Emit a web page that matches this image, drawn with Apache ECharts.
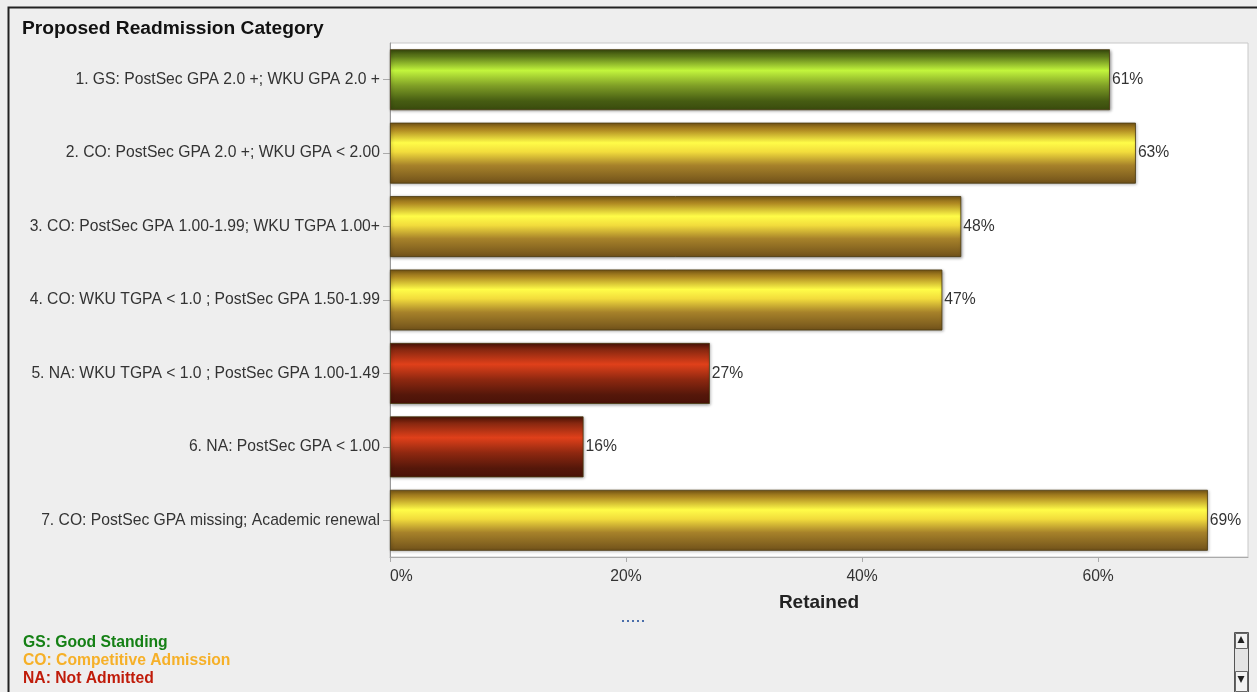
<!DOCTYPE html>
<html><head><meta charset="utf-8">
<script src="https://cdn.jsdelivr.net/npm/echarts@6/dist/echarts.min.js"></script>
<style>html,body{margin:0;padding:0;background:#eeeeee;}#c{width:1257px;height:692px;}</style>
</head><body><div id="c"></div>
<script>
const categories = [
  "1. GS: PostSec GPA 2.0 +; WKU GPA 2.0 +",
  "2. CO: PostSec GPA 2.0 +; WKU GPA < 2.00",
  "3. CO: PostSec GPA 1.00-1.99; WKU TGPA 1.00+",
  "4. CO: WKU TGPA < 1.0 ; PostSec GPA 1.50-1.99",
  "5. NA: WKU TGPA < 1.0 ; PostSec GPA 1.00-1.49",
  "6. NA: PostSec GPA < 1.00",
  "7. CO: PostSec GPA missing; Academic renewal"
];
const retained = [61.0, 63.2, 48.4, 46.8, 27.1, 16.4, 69.3];
const groups = ["GS", "CO", "CO", "CO", "NA", "NA", "CO"];
const xTicks = [0, 20, 40, 60];
const legendLines = ["GS: Good Standing", "CO: Competitive Admission", "NA: Not Admitted"];

const grads = {
  GS: [[0,'#384a0c'],[0.12,'#5d7a1a'],[0.35,'#c2f53c'],[0.6,'#7f9e26'],[0.85,'#465c12'],[1,'#3a4b0d']],
  CO: [[0,'#7a5816'],[0.12,'#b08a22'],[0.33,'#fffc48'],[0.48,'#f2dc3c'],[0.7,'#a7822a'],[1,'#70511a']],
  NA: [[0,'#4a1206'],[0.12,'#8a2810'],[0.35,'#e0401a'],[0.6,'#8e2810'],[0.85,'#55170a'],[1,'#4a1208']]
};
function grad(g){
  return new echarts.graphic.LinearGradient(0,0,0,1, grads[g].map(s=>({offset:s[0],color:s[1]})));
}
const legendColors = ['#158015','#f6b028','#c01c0a'];

const chart = echarts.init(document.getElementById('c'), null, {renderer:'canvas'});
const font = 'Arial, "Liberation Sans", sans-serif';
const fs = 15.7;
chart.setOption({
  backgroundColor: '#eeeeee',
  animation: false,
  textStyle: {fontFamily: font},
  title: {
    text: 'Proposed Readmission Category', left: 22, top: 19, padding: 0,
    textStyle: {fontSize: 19.2, fontWeight: 'bold', color: '#111', fontFamily: font}
  },
  grid: {left: 390, right: 9, top: 43, bottom: 135, show: true, backgroundColor: '#ffffff', borderColor: '#c8c8c8', borderWidth: 1},
  xAxis: {
    type: 'value', min: 0, max: 72.7, interval: 20,
    name: 'Retained', nameLocation: 'middle', nameGap: 36,
    nameTextStyle: {fontSize: 19, fontWeight: 'bold', color: '#222', fontFamily: font},
    axisLine: {show: true, lineStyle: {color: '#aaaaaa'}},
    axisTick: {show: true, length: 5, customValues: xTicks, lineStyle: {color: '#aaaaaa'}},
    splitLine: {show: false},
    axisLabel: {
      fontSize: fs, color: '#333', margin: 12, alignMinLabel: 'left', customValues: xTicks,
      formatter: v => v + '%'
    }
  },
  yAxis: {
    type: 'category', data: categories, inverse: true,
    axisLine: {show: true, lineStyle: {color: '#999999'}},
    axisTick: {show: true, alignWithLabel: true, length: 7, lineStyle: {color: '#aaaaaa'}},
    axisLabel: {fontSize: fs, color: '#333', margin: 10}
  },
  series: [{
    type: 'bar', barWidth: '83%',
    data: retained.map((v,i)=>({value: v, itemStyle: {color: grad(groups[i])}})),
    itemStyle: {borderColor: '#4a3a10', borderWidth: 0.8, shadowColor: 'rgba(0,0,0,0.35)', shadowBlur: 3, shadowOffsetX: 1, shadowOffsetY: 1},
    label: {show: true, position: 'right', distance: 2, fontSize: fs, color: '#333', formatter: p => Math.round(p.value) + '%'}
  }],
  graphic: [
    {type: 'rect', left: 6, top: 5, shape: {width: 1270, height: 700}, style: {fill: 'none', stroke: '#222', lineWidth: 2}, silent: true},
    ...legendLines.map((t,i)=>({type: 'text', left: 23, top: 634.5 + i*18, style: {text: t, fill: legendColors[i], font: 'bold ' + fs + 'px ' + font}})),
    ...[0,1,2,3,4].map(k=>({type: 'rect', left: 622 + k*5, top: 620, shape: {width: 2, height: 2}, style: {fill: '#4a6eaa'}})),
    {type: 'rect', left: 1234, top: 632, shape: {width: 14, height: 70}, style: {fill: '#e4e4e4', stroke: '#555', lineWidth: 1}},
    {type: 'rect', left: 1235, top: 633, shape: {width: 12, height: 15}, style: {fill: '#f2f2f2', stroke: '#666', lineWidth: 1}},
    {type: 'rect', left: 1235, top: 671, shape: {width: 12, height: 20}, style: {fill: '#f2f2f2', stroke: '#666', lineWidth: 1}},
    {type: 'polygon', shape: {points: [[1241,636],[1237.5,643],[1244.5,643]]}, style: {fill: '#222'}},
    {type: 'polygon', shape: {points: [[1237.5,676],[1244.5,676],[1241,683]]}, style: {fill: '#222'}}
  ]
});
</script></body></html>
